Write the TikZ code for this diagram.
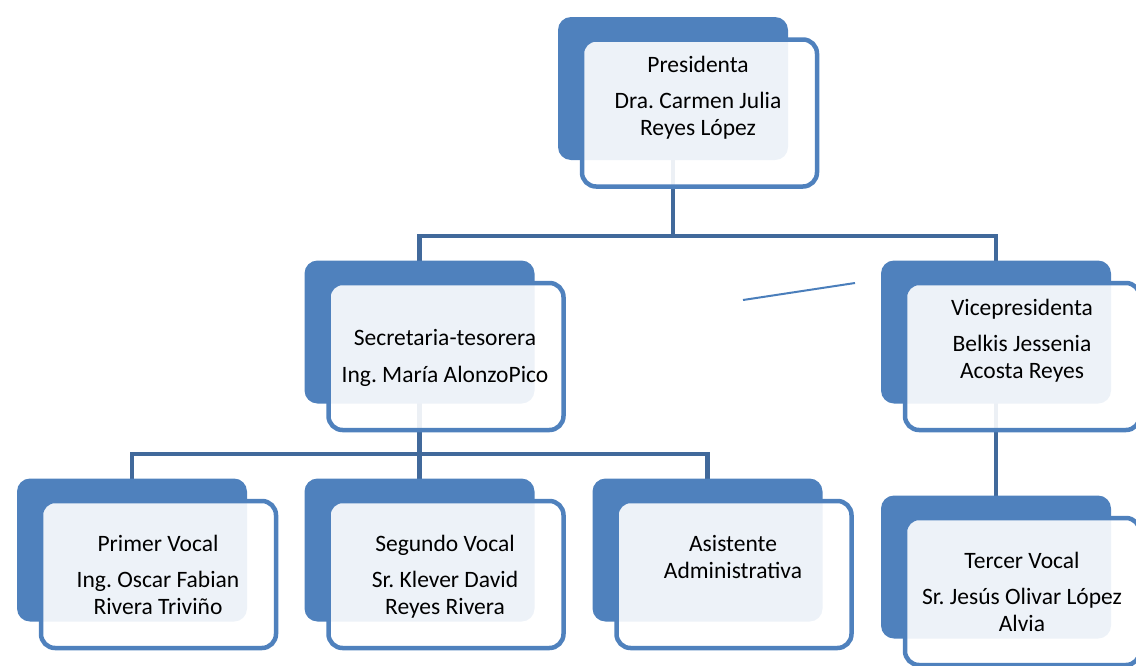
\documentclass[tikz,border=0pt]{standalone}
\usepackage{fontspec}
\setmainfont{Carlito}
\usetikzlibrary{positioning, backgrounds}

\definecolor{boxblue}{HTML}{4F81BD}
\definecolor{linkblue}{HTML}{41699B}
\definecolor{strayblue}{HTML}{4A7EBB}
\frenchspacing

\begin{document}
\begin{tikzpicture}[x=1pt, y=-1pt,
    back/.style={fill=boxblue, rounded corners=13pt, minimum width=230pt, minimum height=143pt, inner sep=0pt},
    front/.style={draw=boxblue, line width=4.5pt, fill=white, fill opacity=0.9, draw opacity=1, rounded corners=14pt,
                  minimum width=235pt, minimum height=147pt, inner sep=0pt, xshift=26.5pt, yshift=-24.5pt},
    txt/.style={align=center, font=\fontsize{23.5}{27}\selectfont, inner sep=0pt},
    link/.style={draw=linkblue, line width=4.5pt},
    stray/.style={draw=strayblue, line width=2pt}]
   \useasboundingbox (0,0) rectangle (1136,665);

   % Back boxes
   \node[back] (pres) at (673,88.5) {};
   \node[back] (sec) at (419.5,332) {};
   \node[back] (vice) at (996,332) {};
   \node[back] (voc1) at (132,550) {};
   \node[back] (voc2) at (419.5,550) {};
   \node[back] (asis) at (707.5,550) {};
   \node[back] (voc3) at (996,567) {};

   % Front boxes
   \node[front] (pres-f) at (pres) {};
   \node[front] (sec-f) at (sec) {};
   \node[front] (vice-f) at (vice) {};
   \node[front] (voc1-f) at (voc1) {};
   \node[front] (voc2-f) at (voc2) {};
   \node[front] (asis-f) at (asis) {};
   \node[front] (voc3-f) at (voc3) {};

   % Texts
   \node[txt] (pres-t) at (698,97.5) {Presidenta\\[9pt] Dra. Carmen Julia\\ Reyes López};
   \node[txt] (sec-t) at (445,358) {Secretaria-tesorera\\[10pt] Ing. María AlonzoPico};
   \node[txt] (vice-t) at (1022,340.5) {Vicepresidenta\\[9pt] Belkis Jessenia\\ Acosta Reyes};
   \node[txt] (voc1-t) at (158,574.5) {Primer Vocal\\[9pt] Ing. Oscar Fabian\\ Rivera Triviño};
   \node[txt] (voc2-t) at (445,576.5) {Segundo Vocal\\[9pt] Sr. Klever David\\ Reyes Rivera};
   \node[txt] (asis-t) at (733,557) {Asistente\\ Administrativa};
   \node[txt] (voc3-t) at (1022,591.5) {Tercer Vocal\\[9pt] Sr. Jesús Olivar López\\ Alvia};

   % Connectors
   \coordinate (bar1) at (0,236);
   \coordinate (bar2) at (0,454);
   \begin{pgfonlayer}{background}
   \draw[link] (pres.center) -- (pres.center |- bar1);
   \draw[link] (sec.center) |- (vice.center |- bar1) -- (vice.center);
   \draw[link] (sec.center) -- (voc2.center);
   \draw[link] (voc1.center) |- (asis.center |- bar2) -- (asis.center);
   \draw[link] (vice.center) -- (voc3.center);
   \end{pgfonlayer}

   % Loose line
   \coordinate (s1) at (743,300);
   \coordinate (s2) at (855,283);
   \draw[stray] (s1) -- (s2);
\end{tikzpicture}
\end{document}
